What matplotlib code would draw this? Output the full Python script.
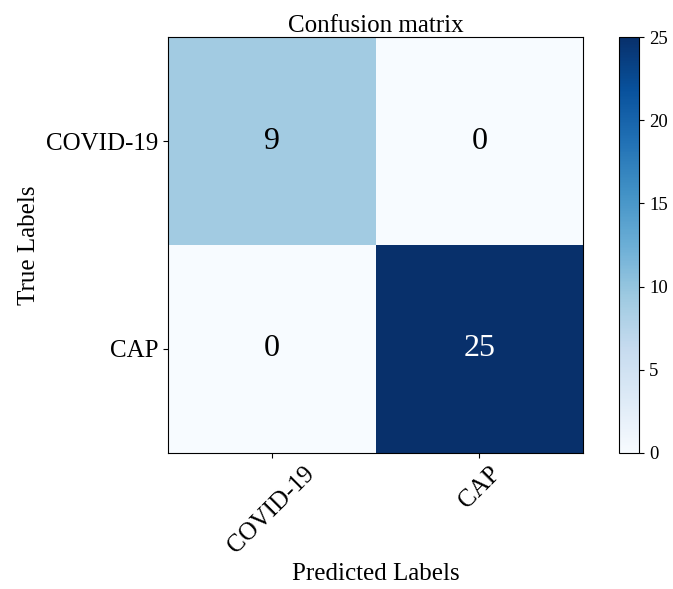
import numpy as np
import matplotlib
matplotlib.use('Agg')
import matplotlib.pyplot as plt

classes = ['COVID-19', 'CAP']
cm = np.array([[9, 0],
               [0, 25]])

plt.rcParams['font.family'] = ['Liberation Serif', 'DejaVu Serif']

fig = plt.figure(figsize=(6.73, 5.89), dpi=100)
ax = fig.add_axes([0.2496, 0.231, 0.617, 0.706])
cax = fig.add_axes([0.920, 0.231, 0.030, 0.706])

im = ax.imshow(cm, interpolation='nearest', cmap=plt.cm.Blues, aspect='auto')
ax.set_title('Confusion matrix', fontsize=18, pad=4)
cb = fig.colorbar(im, cax=cax)
cb.ax.tick_params(labelsize=13.5)

ticks = np.arange(len(classes))
ax.set_xticks(ticks)
ax.set_xticklabels(classes, rotation=45, fontsize=18)
ax.set_yticks(ticks)
ax.set_yticklabels(classes, fontsize=18)

thresh = cm.max() / 2.
for i in range(cm.shape[0]):
    for j in range(cm.shape[1]):
        ax.text(j, i, format(cm[i, j], 'd'), ha='center', va='center',
                fontsize=23, color='white' if cm[i, j] > thresh else 'black')

ax.set_ylabel('True Labels', fontsize=18)
ax.set_xlabel('Predicted Labels', fontsize=18)

fig.savefig('out.png', dpi=100)
